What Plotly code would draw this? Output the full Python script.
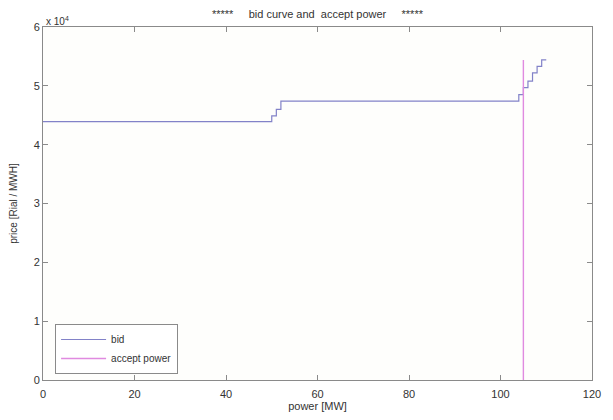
import plotly.graph_objects as go

# bid curve (stepwise) values
bid_power = [0, 50, 51, 52, 104, 105, 106, 107, 108, 109, 110]
bid_price = [43900, 44900, 46000, 47400, 48500, 49700, 50800, 52200, 53300, 54400, 54400]

# accepted power
accept_power = [105, 105]
accept_price = [0, 54400]

x_ticks = [0, 20, 40, 60, 80, 100, 120]
y_ticks = [0, 10000, 20000, 30000, 40000, 50000, 60000]
y_tick_labels = ["0", "1", "2", "3", "4", "5", "6"]

font = "Liberation Sans, Arial, sans-serif"

fig = go.Figure()
fig.add_trace(go.Scatter(x=bid_power, y=bid_price, mode="lines", name="bid",
                         line=dict(color="#8282c8", width=1.2, shape="hv")))
fig.add_trace(go.Scatter(x=accept_power, y=accept_price, mode="lines", name="accept power",
                         line=dict(color="#e08ae0", width=1.4)))

axis_common = dict(showgrid=False, zeroline=False, showline=True, linecolor="#8a8a8a",
                   linewidth=1, mirror="ticks", ticks="inside", ticklen=5,
                   tickcolor="#8a8a8a", tickfont=dict(family=font, size=11, color="#333"))

fig.update_layout(
    width=613, height=420,
    margin=dict(l=43, r=17, t=27, b=35),
    paper_bgcolor="white", plot_bgcolor="#fefefc",
    showlegend=True,
    legend=dict(x=0.022, y=0.017, xanchor="left", yanchor="bottom",
                bgcolor="white", bordercolor="#8a8a8a", borderwidth=1,
                font=dict(family=font, size=10, color="#333"),
                itemwidth=45, tracegroupgap=0),
    xaxis=dict(range=[0, 120], tickvals=x_ticks, ticklabelstandoff=4,
               title=dict(text="power [MW]", font=dict(family=font, size=11, color="#333"), standoff=0),
               **axis_common),
    yaxis=dict(range=[0, 60000], tickvals=y_ticks, ticktext=y_tick_labels,
               title=dict(text="price [Rial / MWH]", font=dict(family=font, size=10, color="#333"), standoff=14),
               **axis_common),
    annotations=[
        dict(text="*****     bid curve and  accept power     *****", x=0.5, y=1.0, xref="paper",
             yref="paper", xanchor="center", yanchor="bottom", yshift=5, showarrow=False,
             font=dict(family=font, size=11, color="#333")),
        dict(text="x 10<sup>4</sup>", x=0, y=1, xref="paper", yref="paper", xanchor="left",
             yanchor="bottom", xshift=1, yshift=-2, showarrow=False,
             font=dict(family=font, size=10, color="#333")),
    ],
)

fig.write_html("out.html")
